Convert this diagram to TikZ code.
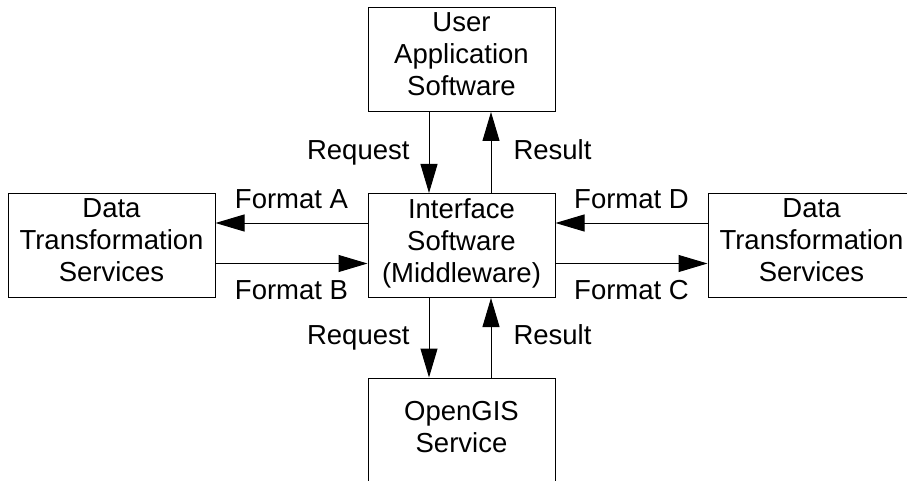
\documentclass[tikz,border=0pt]{standalone}
\usepackage{fontspec}
\setmainfont{Liberation Sans}
\usetikzlibrary{arrows.meta,positioning}

\begin{document}
\begin{tikzpicture}[x=1pt,y=-1pt,
    box/.style={draw, line width=1pt, align=center, inner sep=0pt, text depth=10pt,
        minimum width=187pt, minimum height=104pt, font=\fontsize{27.5}{32}\selectfont},
    flow/.style={-{Triangle[length=29pt,width=17pt]}, line width=1pt},
    lbl/.style={inner sep=0pt, text height=20pt, text depth=6pt, font=\fontsize{27.5}{32}\selectfont}]
    \useasboundingbox (0,0) rectangle (907,481);
    \node[box] (user) at (461.5,59.5) {User\\Application\\Software};
    \node[box] (mid) at (461.5,245.5) {Interface\\Software\\(Middleware)};
    \node[box, minimum height=108pt] (ogis) at (461.5,432) {OpenGIS\\Service};
    \foreach \x/\name in {111.5/dtsl,811.5/dtsr}{\node[box, minimum width=207pt] (\name) at (\x,245.5) {Data\\Transformation\\Services};}
    % up and down
    \draw[flow] ([xshift=-32.5pt]user.south) -- ([xshift=-32.5pt]mid.north) node[lbl, midway, left=19pt] {Request};
    \draw[flow] ([xshift=29.5pt]mid.north) -- ([xshift=29.5pt]user.south) node[lbl, midway, right=22pt] {Result};
    \draw[flow] ([xshift=-32.5pt]mid.south) -- ([xshift=-32.5pt]ogis.north) node[lbl, midway, left=19pt] {Request};
    \draw[flow] ([xshift=29.5pt]ogis.north) -- ([xshift=29.5pt]mid.south) node[lbl, midway, right=22pt] {Result};
    % left and right
    \draw[flow] ([yshift=22.5pt]mid.west) -- ([yshift=22.5pt]dtsl.east) node[lbl, midway, above=8pt] {Format A};
    \draw[flow] ([yshift=-18pt]dtsl.east) -- ([yshift=-18pt]mid.west) node[lbl, midway, below=15pt] {Format B};
    \draw[flow] ([yshift=22.5pt]dtsr.west) -- ([yshift=22.5pt]mid.east) node[lbl, midway, above=8pt] {Format D};
    \draw[flow] ([yshift=-18pt]mid.east) -- ([yshift=-18pt]dtsr.west) node[lbl, midway, below=15pt] {Format C};
\end{tikzpicture}
\end{document}
